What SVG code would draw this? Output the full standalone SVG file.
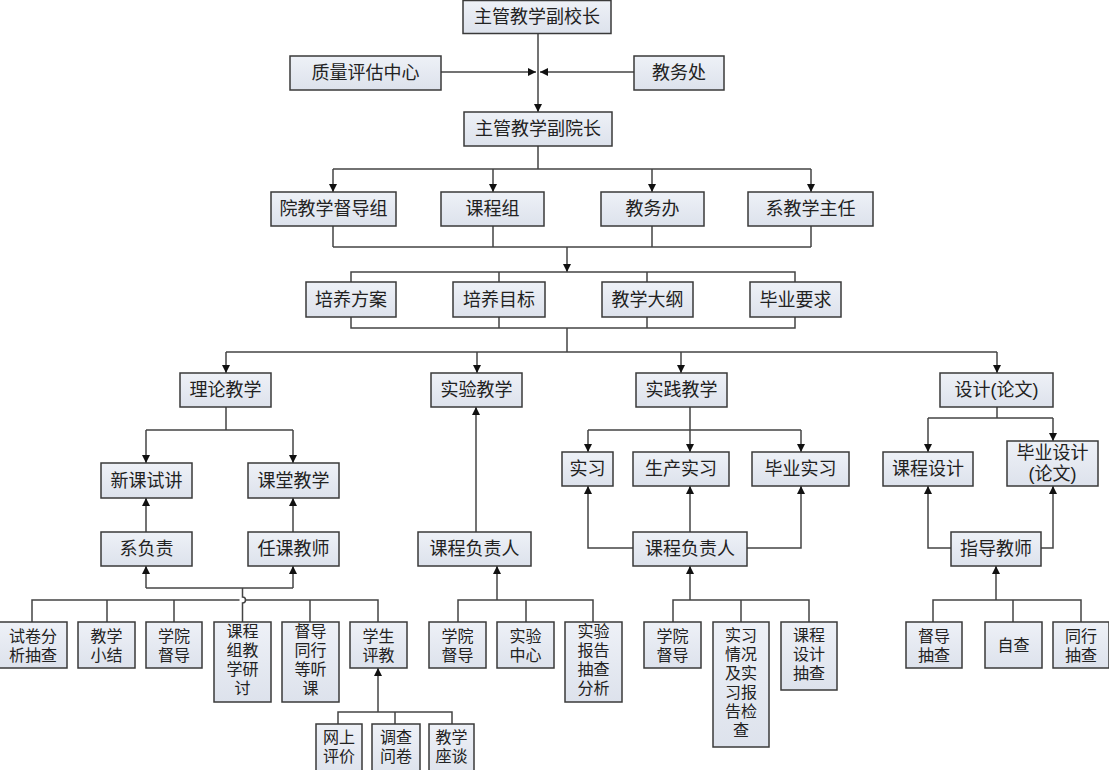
<svg xmlns="http://www.w3.org/2000/svg" width="1109" height="770" viewBox="0 0 1109 770">
<defs>
<linearGradient id="g" x1="0" y1="0" x2="0" y2="1">
<stop offset="0" stop-color="#eef1f7"/>
<stop offset="1" stop-color="#dde2ec"/>
</linearGradient>
<marker id="a" viewBox="0 0 10 10" refX="10" refY="5" markerWidth="8" markerHeight="8" markerUnits="userSpaceOnUse" orient="auto">
<path d="M0,0 L10,5 L0,10 z" fill="#111"/>
</marker>
</defs>
<style>
.n rect{fill:url(#g);stroke:#3a3a3a;stroke-width:1.5}
.n text{font-family:"Liberation Sans","Noto Sans CJK SC","Noto Sans CJK JP",sans-serif;font-size:18px;fill:#222;text-anchor:middle}
.n text.s{font-size:16px}
#c path{fill:none;stroke:#444;stroke-width:1.5}
#c path.r{marker-end:url(#a)}
</style>
<rect width="1109" height="770" fill="#fff"/>
<g id="c">
<path class="r" d="M538,33 V112"/>
<path class="r" d="M441,72 H536"/>
<path class="r" d="M634,72 H540"/>
<path d="M538,146 V169 M333,169 H811"/>
<path class="r" d="M333,169 V192"/>
<path class="r" d="M493,169 V192"/>
<path class="r" d="M652,169 V192"/>
<path class="r" d="M811,169 V192"/>
<path d="M333,226 V247 M493,226 V247 M652,226 V247 M811,226 V247 M333,247 H811"/>
<path class="r" d="M567,247 V272"/>
<path d="M351,282 V272 H795 V282 M499,272 V282 M647,272 V282"/>
<path d="M351,317 V328 H795 V317 M499,317 V328 M647,317 V328 M567,328 V352 M226,352 H997"/>
<path class="r" d="M226,352 V373"/>
<path class="r" d="M477,352 V373"/>
<path class="r" d="M681,352 V373"/>
<path class="r" d="M997,352 V373"/>
<path d="M226,407 V430 M146,430 H293"/>
<path class="r" d="M146,430 V463"/>
<path class="r" d="M293,430 V463"/>
<path class="r" d="M146,532 V498"/>
<path class="r" d="M293,532 V498"/>
<path d="M146,588 H293"/>
<path class="r" d="M146,588 V566"/>
<path class="r" d="M293,588 V566"/>
<path d="M242.5,622 V603 A3,3 0 0 0 242.5,597 V588"/>
<path d="M32,622 V600 H239.5 M245.5,600 H378 V622 M107,600 V622 M174,600 V622 M310,600 V622"/>
<path class="r" d="M378,712 V668"/>
<path d="M338,724 V712 H452 V724 M395,712 V724"/>
<path class="r" d="M476,532 V407"/>
<path class="r" d="M497,600 V566"/>
<path d="M458,622 V600 H593 V622 M526,600 V622"/>
<path d="M690,407 V430 M588,430 H801"/>
<path class="r" d="M588,430 V452"/>
<path class="r" d="M690,430 V452"/>
<path class="r" d="M801,430 V452"/>
<path class="r" d="M633,548 H588 V486"/>
<path class="r" d="M690,532 V486"/>
<path class="r" d="M747,548 H801 V486"/>
<path class="r" d="M690,600 V566"/>
<path d="M673,622 V600 H809 V622 M741,600 V622"/>
<path d="M997,407 V418 M928,418 H1053"/>
<path class="r" d="M928,418 V452"/>
<path class="r" d="M1053,418 V441"/>
<path class="r" d="M951,548 H928 V486"/>
<path class="r" d="M1041,548 H1053 V486"/>
<path class="r" d="M996,600 V566"/>
<path d="M933,622 V600 H1081 V622 M1013,600 V622"/>
</g>
<g id="n1" class="n"><rect x="463" y="0.5" width="148" height="33"/><text x="537" y="23">主管教学副校长</text></g>
<g id="n2" class="n"><rect x="290" y="56" width="151" height="34"/><text x="365.5" y="79">质量评估中心</text></g>
<g id="n3" class="n"><rect x="634" y="56" width="90" height="34"/><text x="679" y="79">教务处</text></g>
<g id="n4" class="n"><rect x="464" y="112" width="148" height="34"/><text x="538" y="135">主管教学副院长</text></g>
<g id="n5" class="n"><rect x="271" y="192" width="125" height="34"/><text x="333.5" y="215">院教学督导组</text></g>
<g id="n6" class="n"><rect x="441" y="192" width="103" height="34"/><text x="492.5" y="215">课程组</text></g>
<g id="n7" class="n"><rect x="601" y="192" width="103" height="34"/><text x="652.5" y="215">教务办</text></g>
<g id="n8" class="n"><rect x="748" y="192" width="125" height="34"/><text x="810.5" y="215">系教学主任</text></g>
<g id="n9" class="n"><rect x="306" y="282" width="90" height="35"/><text x="351" y="305.5">培养方案</text></g>
<g id="n10" class="n"><rect x="453" y="282" width="92" height="35"/><text x="499" y="305.5">培养目标</text></g>
<g id="n11" class="n"><rect x="602" y="282" width="91" height="35"/><text x="647.5" y="305.5">教学大纲</text></g>
<g id="n12" class="n"><rect x="750" y="282" width="91" height="35"/><text x="795.5" y="305.5">毕业要求</text></g>
<g id="n13" class="n"><rect x="180" y="373" width="91" height="34"/><text x="225.5" y="396">理论教学</text></g>
<g id="n14" class="n"><rect x="431" y="373" width="91" height="34"/><text x="476.5" y="396">实验教学</text></g>
<g id="n15" class="n"><rect x="636" y="373" width="91" height="34"/><text x="681.5" y="396">实践教学</text></g>
<g id="n16" class="n"><rect x="940" y="373" width="113" height="34"/><text x="996.5" y="396">设计(论文)</text></g>
<g id="n17" class="n"><rect x="101" y="463" width="91" height="35"/><text x="146.5" y="486.5">新课试讲</text></g>
<g id="n18" class="n"><rect x="248" y="463" width="91" height="35"/><text x="293.5" y="486.5">课堂教学</text></g>
<g id="n19" class="n"><rect x="101" y="532" width="91" height="34"/><text x="146.5" y="555">系负责</text></g>
<g id="n20" class="n"><rect x="248" y="532" width="91" height="34"/><text x="293.5" y="555">任课教师</text></g>
<g id="n21" class="n"><rect x="-1" y="622" width="68" height="46"/><text class="s" x="33" y="642">试卷分<tspan x="33" dy="19">析抽查</tspan></text></g>
<g id="n22" class="n"><rect x="78" y="622" width="57" height="46"/><text class="s" x="106.5" y="642">教学<tspan x="106.5" dy="19">小结</tspan></text></g>
<g id="n23" class="n"><rect x="146" y="622" width="56" height="46"/><text class="s" x="174" y="642">学院<tspan x="174" dy="19">督导</tspan></text></g>
<g id="n24" class="n"><rect x="214" y="622" width="57" height="80"/><text class="s" x="242.5" y="637">课程<tspan x="242.5" dy="19">组教</tspan><tspan x="242.5" dy="19">学研</tspan><tspan x="242.5" dy="19">讨</tspan></text></g>
<g id="n25" class="n"><rect x="282" y="622" width="57" height="80"/><text class="s" x="310.5" y="637">督导<tspan x="310.5" dy="19">同行</tspan><tspan x="310.5" dy="19">等听</tspan><tspan x="310.5" dy="19">课</tspan></text></g>
<g id="n26" class="n"><rect x="350" y="622" width="57" height="46"/><text class="s" x="378.5" y="642">学生<tspan x="378.5" dy="19">评教</tspan></text></g>
<g id="n27" class="n"><rect x="316" y="724" width="46" height="52"/><text class="s" x="339" y="743">网上<tspan x="339" dy="19">评价</tspan></text></g>
<g id="n28" class="n"><rect x="372" y="724" width="48" height="52"/><text class="s" x="396" y="743">调查<tspan x="396" dy="19">问卷</tspan></text></g>
<g id="n29" class="n"><rect x="429" y="724" width="45" height="52"/><text class="s" x="451.5" y="743">教学<tspan x="451.5" dy="19">座谈</tspan></text></g>
<g id="n30" class="n"><rect x="418" y="532" width="113" height="34"/><text x="474.5" y="555">课程负责人</text></g>
<g id="n31" class="n"><rect x="429" y="622" width="57" height="46"/><text class="s" x="457.5" y="642">学院<tspan x="457.5" dy="19">督导</tspan></text></g>
<g id="n32" class="n"><rect x="497" y="622" width="57" height="46"/><text class="s" x="525.5" y="642">实验<tspan x="525.5" dy="19">中心</tspan></text></g>
<g id="n33" class="n"><rect x="565" y="622" width="57" height="80"/><text class="s" x="593.5" y="637">实验<tspan x="593.5" dy="19">报告</tspan><tspan x="593.5" dy="19">抽查</tspan><tspan x="593.5" dy="19">分析</tspan></text></g>
<g id="n34" class="n"><rect x="562" y="452" width="51" height="34"/><text x="587.5" y="475">实习</text></g>
<g id="n35" class="n"><rect x="633" y="452" width="96" height="34"/><text x="681" y="475">生产实习</text></g>
<g id="n36" class="n"><rect x="752" y="452" width="97" height="34"/><text x="800.5" y="475">毕业实习</text></g>
<g id="n37" class="n"><rect x="633" y="532" width="114" height="34"/><text x="690" y="555">课程负责人</text></g>
<g id="n38" class="n"><rect x="644" y="622" width="57" height="46"/><text class="s" x="672.5" y="642">学院<tspan x="672.5" dy="19">督导</tspan></text></g>
<g id="n39" class="n"><rect x="713" y="622" width="56" height="125"/><text class="s" x="741" y="641">实习<tspan x="741" dy="19">情况</tspan><tspan x="741" dy="19">及实</tspan><tspan x="741" dy="19">习报</tspan><tspan x="741" dy="19">告检</tspan><tspan x="741" dy="19">查</tspan></text></g>
<g id="n40" class="n"><rect x="781" y="622" width="56" height="68"/><text class="s" x="809" y="641">课程<tspan x="809" dy="19">设计</tspan><tspan x="809" dy="19">抽查</tspan></text></g>
<g id="n41" class="n"><rect x="883" y="452" width="90" height="34"/><text x="928" y="475">课程设计</text></g>
<g id="n42" class="n"><rect x="1007" y="441" width="91" height="45"/><text x="1052.5" y="459">毕业设计<tspan x="1052.5" dy="21">(论文)</tspan></text></g>
<g id="n43" class="n"><rect x="951" y="532" width="90" height="34"/><text x="996" y="555">指导教师</text></g>
<g id="n44" class="n"><rect x="906" y="622" width="56" height="46"/><text class="s" x="934" y="642">督导<tspan x="934" dy="19">抽查</tspan></text></g>
<g id="n45" class="n"><rect x="985" y="622" width="57" height="46"/><text class="s" x="1013.5" y="651">自查</text></g>
<g id="n46" class="n"><rect x="1053" y="622" width="56" height="46"/><text class="s" x="1081" y="642">同行<tspan x="1081" dy="19">抽查</tspan></text></g>
</svg>
